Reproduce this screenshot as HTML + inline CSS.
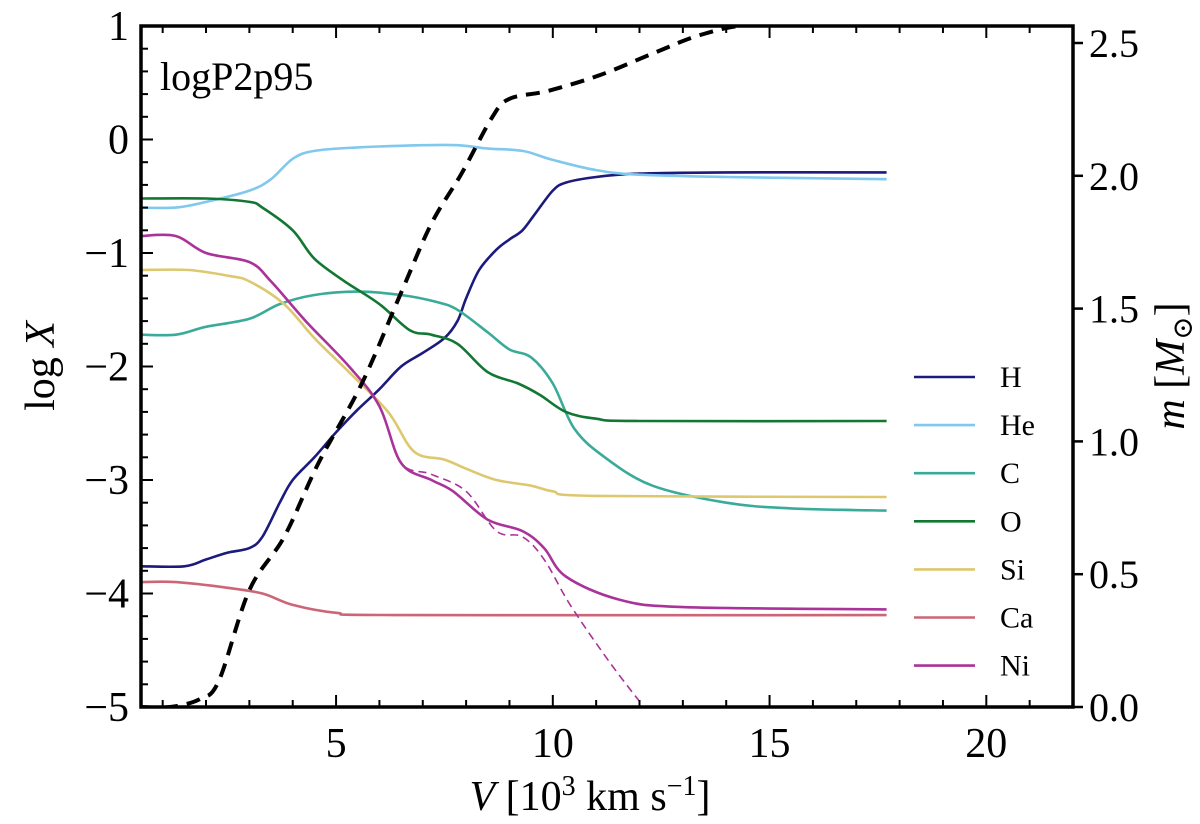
<!DOCTYPE html>
<html><head><meta charset="utf-8"><style>
body{margin:0;background:#fff}
svg{display:block;font-family:"Liberation Serif","DejaVu Serif",serif}
</style></head><body>
<svg id="chart" width="1200" height="824" viewBox="0 0 1200 824">
<g id="plot"></g>
</svg>
<script>
const categories=["H","He","C","O","Si","Ca","Ni"];
const colors=["#1c1a7c","#80c8ee","#3aab99","#127733","#ddc870","#cc6677","#aa3399"];
const vH=[0.5,1.5,2,2.5,3,3.3,3.7,4,4.5,5,5.5,6,6.5,7,7.5,7.8,8,8.3,8.7,9,9.3,9.6,10,10.3,11,12,14,17.7];
const yH=[-3.76,-3.76,-3.7,-3.64,-3.6,-3.5,-3.2,-3.0,-2.8,-2.58,-2.38,-2.2,-2.0,-1.88,-1.75,-1.6,-1.4,-1.15,-0.97,-0.88,-0.8,-0.65,-0.45,-0.38,-0.33,-0.3,-0.29,-0.29];
const vHe=[0.5,1.3,2,3,3.5,4,4.5,5.5,7,7.8,8.5,9.3,10,11,12,14,17.7];
const yHe=[-0.6,-0.6,-0.55,-0.45,-0.35,-0.17,-0.1,-0.07,-0.05,-0.05,-0.08,-0.1,-0.18,-0.27,-0.31,-0.33,-0.35];
const vC=[0.5,1.3,2,3,3.7,4.5,5.5,6.5,7.3,7.8,8.5,9,9.5,10,10.5,11.2,12.3,14,15.5,17.7];
const yC=[-1.72,-1.72,-1.65,-1.58,-1.45,-1.37,-1.34,-1.37,-1.43,-1.5,-1.7,-1.85,-1.92,-2.15,-2.55,-2.8,-3.05,-3.2,-3.25,-3.27];
const vO=[0.5,2,3,3.3,4,4.5,5.2,6,6.7,7.2,7.8,8.5,9.2,9.7,10.3,11,12,17.7];
const yO=[-0.52,-0.52,-0.55,-0.6,-0.8,-1.05,-1.25,-1.45,-1.68,-1.72,-1.8,-2.05,-2.15,-2.25,-2.4,-2.46,-2.48,-2.48];
const vSi=[0.5,1.6,2.5,3,3.8,4.5,5.3,6.2,6.8,7.5,8,8.7,9.5,10,11,17.7];
const ySi=[-1.15,-1.15,-1.2,-1.25,-1.45,-1.75,-2.05,-2.4,-2.75,-2.82,-2.9,-3.0,-3.05,-3.1,-3.14,-3.15];
const vCa=[0.5,1.3,2.5,3.3,4,5,6.5,17.7];
const yCa=[-3.9,-3.9,-3.95,-4.0,-4.1,-4.17,-4.19,-4.19];
const vNi=[0.5,1.3,2,3,3.5,4.3,5.3,6,6.5,7.2,7.7,8.5,9.3,9.8,10.3,11.5,13,17.7];
const yNi=[-0.85,-0.85,-1.0,-1.08,-1.25,-1.6,-2.0,-2.35,-2.85,-3.0,-3.1,-3.35,-3.45,-3.6,-3.85,-4.05,-4.12,-4.14];
const vNiD=[0.5,1.3,2,3,3.5,4.3,5.3,6,6.5,7.2,8,8.7,9.3,9.8,10.4,11.3,12.1];
const yNiD=[-0.85,-0.85,-1.0,-1.08,-1.25,-1.6,-2.0,-2.35,-2.85,-2.95,-3.1,-3.45,-3.5,-3.7,-4.1,-4.6,-5.0];
const vM=[0.5,1.17,1.86,2.3,3.0,3.8,4.6,5.6,6.5,7.2,7.9,8.6,9.0,9.9,11.1,12.3,13.4,14.6,16.9,17.7];
const mM=[0,0,0.03,0.1,0.44,0.64,0.92,1.22,1.56,1.82,2.01,2.22,2.29,2.32,2.38,2.46,2.53,2.57,2.58,2.58];
const xTicks=[5,10,15,20];
const yTicks=[1,0,-1,-2,-3,-4,-5];
const rTicks=["0.0","0.5","1.0","1.5","2.0","2.5"];

const L=141,R=1073,T=26,B=707;
const X=v=>L+(v-0.5)*(R-L)/21.5;
const Y=y=>T+(1-y)*(B-T)/6;
const YR=m=>707-m*265.6;
const NS="http://www.w3.org/2000/svg";
const g=document.getElementById('plot');
function el(t,a,p){const e=document.createElementNS(NS,t);for(const k in a)e.setAttribute(k,a[k]);(p||g).appendChild(e);return e;}
const clip=el('clipPath',{id:'cp'});el('rect',{x:L,y:T,width:R-L,height:B-T},clip);
const series=[[vH,yH],[vHe,yHe],[vC,yC],[vO,yO],[vSi,ySi],[vCa,yCa],[vNi,yNi]];
function pathD(vs,ys,fy){
 const P=vs.map((v,i)=>[X(v),fy(ys[i])]);
 let d='M'+P[0][0].toFixed(1)+','+P[0][1].toFixed(1);
 for(let i=0;i<P.length-1;i++){
  const p0=P[Math.max(0,i-1)],p1=P[i],p2=P[i+1],p3=P[Math.min(P.length-1,i+2)];
  const c1=[p1[0]+(p2[0]-p0[0])/6,p1[1]+(p2[1]-p0[1])/6];
  const c2=[p2[0]-(p3[0]-p1[0])/6,p2[1]-(p3[1]-p1[1])/6];
  d+='C'+c1[0].toFixed(1)+','+c1[1].toFixed(1)+' '+c2[0].toFixed(1)+','+c2[1].toFixed(1)+' '+p2[0].toFixed(1)+','+p2[1].toFixed(1);
 }
 return d;}
series.forEach((s,i)=>{
 const p=el('path',{d:pathD(s[0],s[1],Y),fill:'none',stroke:colors[i],'stroke-width':2.6,'stroke-linejoin':'round','clip-path':'url(#cp)'});
 
 
});
const nd=el('path',{d:pathD(vNiD,yNiD,Y),fill:'none',stroke:colors[6],'stroke-width':1.6,'stroke-dasharray':'8,5','clip-path':'url(#cp)'});


const mp=el('path',{d:pathD(vM,mM,YR),fill:'none',stroke:'#000','stroke-width':4,'stroke-dasharray':'14,9','clip-path':'url(#cp)'});


const fr=el('rect',{x:L,y:T,width:R-L,height:B-T,fill:'none',stroke:'#000','stroke-width':3.5});


for(let v=1;v<=22;v++){const mj=v%5==0;
 el('line',{x1:X(v),x2:X(v),y1:B,y2:B-(mj?12:7),stroke:'#000','stroke-width':2});
 el('line',{x1:X(v),x2:X(v),y1:T,y2:T+(mj?12:7),stroke:'#000','stroke-width':2});}
xTicks.forEach(v=>{const t=el('text',{x:X(v),y:B+50,'font-size':42,'text-anchor':'middle'});t.textContent=v;
 
 });
for(let k=0;k<=30;k++){const y=-5+k*0.2;const mj=k%5==0;
 el('line',{x1:L,x2:L+(mj?12:7),y1:Y(y),y2:Y(y),stroke:'#000','stroke-width':2});}
yTicks.forEach(y=>{const t=el('text',{x:L-12,y:Y(y)+14,'font-size':42,'text-anchor':'end'});t.textContent=y<0?'\u2212'+(-y):y;
 
 });
rTicks.forEach(s=>{const m=parseFloat(s);
 el('line',{x1:R,x2:R+10,y1:YR(m),y2:YR(m),stroke:'#000','stroke-width':2.5});
 const t=el('text',{x:R+16,y:YR(m)+14,'font-size':40});t.textContent=s;
 
 });
let t=el('text',{x:590,y:810,'font-size':42,'text-anchor':'middle'});
t.innerHTML='<tspan font-style="italic">V</tspan> [10<tspan dy="-15" font-size="28">3</tspan><tspan dy="15"> km s</tspan><tspan dy="-15" font-size="28">\u22121</tspan><tspan dy="15">]</tspan>';


t=el('text',{x:0,y:0,'font-size':42,'text-anchor':'middle',transform:'translate(54,366) rotate(-90)'});
t.innerHTML='log <tspan font-style="italic">X</tspan>';


t=el('text',{x:0,y:0,'font-size':42,'text-anchor':'middle',transform:'translate(1184,366) rotate(-90)'});
t.innerHTML='<tspan font-style="italic">m</tspan> [<tspan font-style="italic">M</tspan><tspan font-size="28" dy="8">\u2299</tspan><tspan dy="-8">]</tspan>';


t=el('text',{x:160,y:90,'font-size':40});t.textContent='logP2p95';


categories.forEach((c,i)=>{const y=377+i*48.1;
 const ln=el('line',{x1:914,x2:975,y1:y,y2:y,stroke:colors[i],'stroke-width':2.6});
 
 
 const tx=el('text',{x:1000,y:y+10,'font-size':30});tx.textContent=c;
 
 });
</script>
</body></html>
